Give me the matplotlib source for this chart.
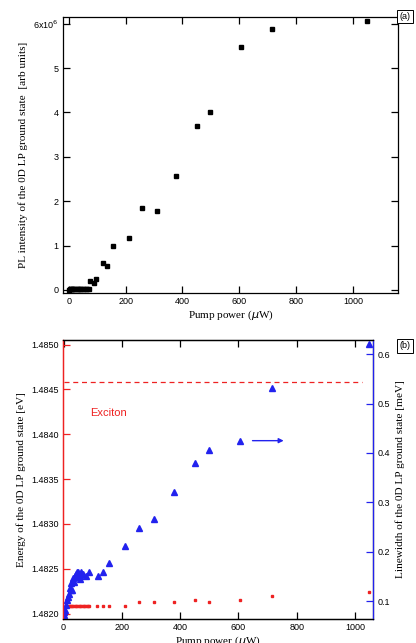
import numpy as np
import matplotlib.pyplot as plt

# panel (a): integrated PL intensity vs pump power
pow_a = [1, 4, 7, 10, 13, 16, 20, 24, 28, 32, 36, 40, 45, 50, 55, 60, 65, 70,
         76, 89, 97, 119, 134, 156, 211, 256, 309, 378, 450, 498, 604, 714, 1048]
pl_a = [0.005, 0.01, 0.01, 0.015, 0.015, 0.015, 0.02, 0.02, 0.02, 0.02, 0.02, 0.02,
        0.02, 0.02, 0.02, 0.02, 0.02, 0.015,
        0.20, 0.15, 0.255, 0.60, 0.53, 1.00, 1.16, 1.84, 1.78, 2.57, 3.69, 4.01,
        5.48, 5.87, 6.06]   # x10^6

# panel (b): energy (red squares) and linewidth (blue triangles)
pow_e = [9, 13, 17, 21, 26, 30, 34, 38, 43, 47, 52, 56, 61, 66, 70, 75, 80, 85, 89,
         116, 135, 156, 212, 258, 309, 378, 451, 499, 606, 715, 1048]
energy = [1.48209] * 19 + [1.48209, 1.48209, 1.48209, 1.48208, 1.48213, 1.48213,
                           1.48213, 1.48215, 1.48213, 1.48215, 1.48220, 1.48224]

pow_w = [0, 1, 3, 6, 9, 13, 15, 18, 21, 24, 26, 29, 32, 35, 38, 40, 44, 47, 49, 55,
         58, 61, 66, 76, 89, 119, 135, 157, 212, 258, 309, 378, 451, 499, 606, 715, 1048]
width = [0.068, 0.072, 0.078, 0.082, 0.092, 0.102, 0.109, 0.115, 0.126, 0.122, 0.136,
         0.122, 0.146, 0.139, 0.151, 0.149, 0.155, 0.159, 0.159, 0.144, 0.151, 0.159,
         0.155, 0.151, 0.159, 0.151, 0.159, 0.177, 0.212, 0.248, 0.266, 0.320, 0.380,
         0.407, 0.425, 0.532, 0.620]

exciton = 1.48458

sans = 'Liberation Sans'
serif = 'Liberation Serif'
red = '#ee2222'
blue = '#2222ee'

fig = plt.figure(figsize=(4.16, 6.43), dpi=100)

# ---- (a)
ax = fig.add_axes([0.1514, 0.5443, 0.8056, 0.4293])
ax.plot(pow_a, pl_a, 's', color='black', ms=2.3)
ax.set_xlim(-20, 1158)
ax.set_ylim(-0.07, 6.15)
ax.set_xticks([0, 200, 400, 600, 800, 1000])
ax.set_yticks([0, 1, 2, 3, 4, 5, 6])
ax.set_yticklabels(['0', '1', '2', '3', '4', '5', '6x10$^6$'])
ax.tick_params(direction='in', top=True, right=True, length=5, width=0.9,
               labelsize=6.5, pad=3)
for lab in ax.get_xticklabels() + ax.get_yticklabels():
    lab.set_family(sans)
ax.set_xlabel('Pump power ($\\mu$W)', family=serif, fontsize=8, labelpad=2)
ax.set_ylabel('PL intensity of the 0D LP ground state  [arb units]', family=serif,
              fontsize=8.1, labelpad=4)
for s in ax.spines.values():
    s.set_linewidth(0.9)
fig.text(0.974, 0.974, '(a)', family=sans, fontsize=6.5, ha='center', va='center',
         bbox=dict(boxstyle='square,pad=0.25', fc='white', ec='black', lw=0.7))

# ---- (b)
bx = fig.add_axes([0.1514, 0.0373, 0.7452, 0.4339])
bx.plot(pow_e, energy, 's', color=red, ms=2.1)
bx.plot([0, 1025], [exciton, exciton], '--', color=red, lw=0.9, dashes=(4, 3))
bx.text(90, 1.4842, 'Exciton', color=red, family=sans, fontsize=8)
bx.set_xlim(-2, 1062)
bx.set_ylim(1.48194, 1.48505)
bx.set_xticks([0, 200, 400, 600, 800, 1000])
bx.set_yticks([1.4820, 1.4825, 1.4830, 1.4835, 1.4840, 1.4845, 1.4850])
bx.set_yticklabels(['%.4f' % v for v in bx.get_yticks()])
bx.tick_params(direction='in', top=True, length=5, width=0.9, labelsize=6.5, pad=3)
bx.tick_params(axis='y', colors=red, labelcolor='black')
for lab in bx.get_xticklabels() + bx.get_yticklabels():
    lab.set_family(sans)
bx.set_xlabel('Pump power ($\\mu$W)', family=serif, fontsize=8, labelpad=2)
bx.set_ylabel('Energy of the 0D LP ground state [eV]', family=serif, fontsize=8.1,
              labelpad=4)
bx.spines['left'].set_color(red)

rx = bx.twinx()
rx.plot(pow_w, width, '^', color=blue, ms=4)
rx.annotate('', xy=(765, 0.425), xytext=(639, 0.425),
            arrowprops=dict(arrowstyle='-|>', color=blue, lw=1, mutation_scale=7))
rx.set_ylim(0.0635, 0.629)
rx.set_yticks([0.1, 0.2, 0.3, 0.4, 0.5, 0.6])
rx.tick_params(axis='y', direction='in', length=5, width=0.9, colors=blue,
               labelcolor='black', labelsize=6.5, pad=3)
for lab in rx.get_yticklabels():
    lab.set_family(sans)
rx.set_ylabel('Linewidth of the 0D LP ground state [meV]', family=serif, fontsize=8.1,
              labelpad=4)
rx.spines['right'].set_color(blue)
rx.spines['left'].set_color(red)
for a in (bx, rx):
    for s in a.spines.values():
        s.set_linewidth(0.9)
fig.text(0.974, 0.462, '(b)', family=sans, fontsize=6.5, ha='center', va='center',
         bbox=dict(boxstyle='square,pad=0.25', fc='white', ec='black', lw=0.7))

fig.savefig('out.png', dpi=100)
